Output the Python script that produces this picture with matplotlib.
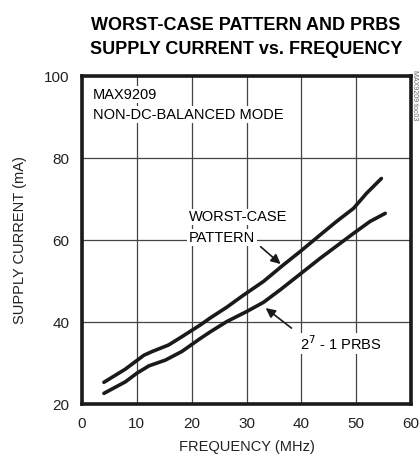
import matplotlib.pyplot as plt

plt.rcParams['font.family'] = ['Liberation Sans', 'DejaVu Sans']

# worst-case pattern
freq_wc = [4.0, 7.9, 9.7, 11.3, 12.8, 15.8, 18.2, 21.6, 23.4, 26.4, 29.4, 33.1,
           36.7, 39.8, 43.4, 46.4, 49.5, 51.9, 54.6]
curr_wc = [25.3, 28.5, 30.3, 31.9, 32.8, 34.4, 36.4, 39.3, 41.0, 43.6, 46.5, 49.9,
           53.9, 57.2, 61.2, 64.5, 67.7, 71.4, 75.0]

# 2^7 - 1 PRBS
freq_prbs = [4.0, 7.9, 10.0, 12.2, 15.2, 18.2, 21.6, 23.4, 26.4, 30.1, 33.1,
             36.1, 39.8, 43.4, 46.4, 49.5, 52.5, 55.3]
curr_prbs = [22.6, 25.4, 27.5, 29.3, 30.7, 32.8, 36.0, 37.6, 40.1, 42.6, 44.8,
             47.8, 51.7, 55.5, 58.5, 61.6, 64.5, 66.5]

xticks = [0, 10, 20, 30, 40, 50, 60]
yticks = [20, 40, 60, 80, 100]

fig = plt.figure(figsize=(4.19, 4.61), dpi=100)
ax = fig.add_axes([82 / 419, 1 - 404 / 461, 329 / 419, 328 / 461])

for fx, cy in [(freq_wc, curr_wc), (freq_prbs, curr_prbs)]:
    ax.plot(fx, cy, color='#1a1a1a', lw=2.6, zorder=3,
            solid_joinstyle='round', solid_capstyle='round')

ax.set_xlim(0, 60)
ax.set_ylim(20, 100)
ax.set_xticks(xticks)
ax.set_yticks(yticks)
ax.grid(True, color='#444444', lw=0.9)
ax.tick_params(length=0, labelsize=11, pad=9, colors='#222222')
for s in ax.spines.values():
    s.set_linewidth(2.6)
    s.set_color('#1a1a1a')

box = dict(facecolor='white', edgecolor='none', pad=1)
fs = 10.5
ax.text(2.0, 95.4, 'MAX9209', fontsize=fs, va='center', ha='left', bbox=box, zorder=4)
ax.text(2.0, 90.5, 'NON-DC-BALANCED MODE', fontsize=fs, va='center', ha='left',
        bbox=box, zorder=4)
ax.text(19.5, 65.6, 'WORST-CASE', fontsize=fs, va='center', ha='left', bbox=box, zorder=4)
ax.text(19.5, 60.5, 'PATTERN', fontsize=fs, va='center', ha='left', bbox=box, zorder=4)
ax.text(39.8, 34.8, r'2$^7$ - 1 PRBS', fontsize=fs, va='center', ha='left', bbox=box, zorder=4)

arrow = dict(arrowstyle='-|>', color='#1a1a1a', lw=1.2, mutation_scale=14)
ax.annotate('', xy=(36.6, 53.7), xytext=(32.2, 58.8), arrowprops=arrow, zorder=5)
ax.annotate('', xy=(33.1, 43.8), xytext=(38.6, 38.1), arrowprops=arrow, zorder=5)

ax.set_xlabel('FREQUENCY (MHz)', fontsize=fs, color='#222222', labelpad=7)
ax.set_ylabel('SUPPLY CURRENT (mA)', fontsize=fs, color='#222222', labelpad=12)

fig.text(246 / 419, 1 - 25 / 461, 'WORST-CASE PATTERN AND PRBS', fontsize=13,
         fontweight='bold', ha='center', va='center')
fig.text(246 / 419, 1 - 50 / 461, 'SUPPLY CURRENT vs. FREQUENCY', fontsize=13,
         fontweight='bold', ha='center', va='center')
fig.text(414 / 419, 1 - 95 / 461, 'MAX9209 toc03', fontsize=5, rotation=270,
         ha='center', va='center', color='#666666')

fig.savefig('out.png', dpi=100)
